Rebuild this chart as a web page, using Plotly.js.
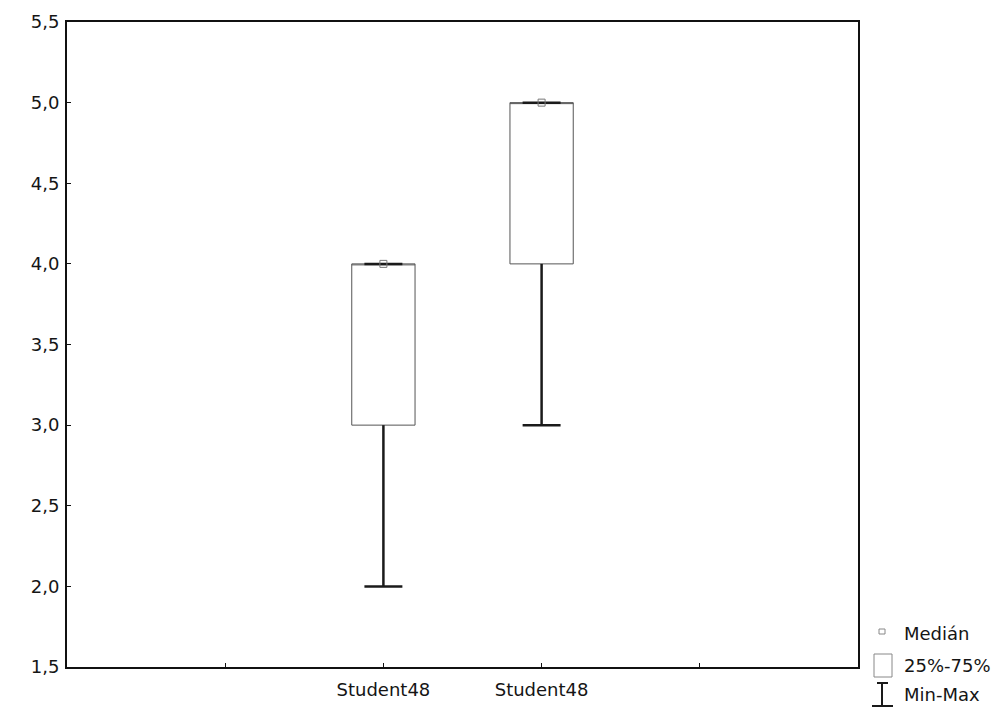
<!DOCTYPE html>
<html>
<head>
<meta charset="utf-8">
<script src="https://cdn.plot.ly/plotly-3.0.1.min.js"></script>
<style>html,body{margin:0;padding:0;background:#fff;}#chart{width:999px;height:715px;}</style>
</head>
<body>
<div id="chart"></div>
<script>
// ---- data ----
const xPos = [2, 3];
const tickVals = [1, 2, 3, 4];
const tickLabels = ["", "Student48", "Student48", ""];
const minVals = [2, 3];
const q1Vals = [3, 4];
const medianVals = [4, 5];
const q3Vals = [4, 5];
const maxVals = [4, 5];
const yTicks = [1.5, 2.0, 2.5, 3.0, 3.5, 4.0, 4.5, 5.0, 5.5];
const legendLabels = ["Medián", "25%-75%", "Min-Max"];

// ---- layout helpers ----
const L = 67, R = 858, T = 22, B = 667;
const px = v => (v - L) / (R - L);
const py = v => (B - v) / (B - T);
const FONT = "DejaVu Sans, Liberation Sans, Arial, sans-serif";
const TXT = "#151515";
const boxWidth = 0.4, capHalf = 0.12;

// thick whisker lines built from data
const wx = [], wy = [];
for (let i = 0; i < xPos.length; i++) {
  const x = xPos[i];
  wx.push(x, x, null, x - capHalf, x + capHalf, null);
  wy.push(q1Vals[i], minVals[i], null, minVals[i], minVals[i], null);
  wx.push(x, x, null, x - capHalf, x + capHalf, null);
  wy.push(q3Vals[i], maxVals[i], null, maxVals[i], maxVals[i], null);
}

const traces = [
  {
    type: "box", x: xPos, q1: q1Vals, median: medianVals, q3: q3Vals,
    lowerfence: q1Vals, upperfence: q3Vals,
    width: boxWidth, whiskerwidth: 0,
    line: {color: "#555", width: 1}, fillcolor: "rgba(255,255,255,0)",
    hoverinfo: "skip", showlegend: false
  },
  {
    type: "scatter", mode: "lines", x: wx, y: wy,
    line: {color: "#1a1a1a", width: 2.5}, hoverinfo: "skip", showlegend: false,
    connectgaps: false
  },
  {
    type: "scatter", mode: "markers", x: xPos, y: medianVals,
    marker: {symbol: "square-open", size: 7, color: "#777", line: {width: 1}},
    hoverinfo: "skip", showlegend: false
  }
];

const shapes = [
  {type: "rect", xref: "paper", yref: "paper", x0: px(879), x1: px(885), y0: py(634), y1: py(629), line: {color: "#888", width: 1}},
  {type: "rect", xref: "paper", yref: "paper", x0: px(874), x1: px(892), y0: py(677), y1: py(654), line: {color: "#888", width: 1}},
  {type: "line", xref: "paper", yref: "paper", x0: px(882), x1: px(882), y0: py(706), y1: py(683), line: {color: "#1a1a1a", width: 2}},
  {type: "line", xref: "paper", yref: "paper", x0: px(877), x1: px(888), y0: py(683), y1: py(683), line: {color: "#1a1a1a", width: 2}},
  {type: "line", xref: "paper", yref: "paper", x0: px(872), x1: px(893), y0: py(706), y1: py(706), line: {color: "#1a1a1a", width: 2}}
];
const legendY = [633, 665, 694];
const annotations = legendLabels.map((t, i) => ({
  text: t, xref: "paper", yref: "paper", x: px(902), y: py(legendY[i]),
  xanchor: "left", yanchor: "middle", showarrow: false,
  font: {family: FONT, size: 18, color: TXT}
}));

const layout = {
  width: 999, height: 715,
  margin: {l: L, r: 999 - R, t: T, b: 715 - B, pad: 0},
  paper_bgcolor: "#fff", plot_bgcolor: "#fff",
  separators: ", ",
  showlegend: false,
  font: {family: FONT, size: 18, color: TXT},
  xaxis: {
    range: [0, 5], tickmode: "array", tickvals: tickVals, ticktext: tickLabels,
    showgrid: false, zeroline: false, showline: true, mirror: true,
    linecolor: "#111", linewidth: 2, ticks: "inside", ticklen: 4, tickcolor: "#111",
    ticklabelstandoff: 5,
    tickfont: {family: FONT, size: 18, color: TXT}
  },
  yaxis: {
    range: [1.5, 5.5], tickmode: "array", tickvals: yTicks, tickformat: ".1f",
    showgrid: false, zeroline: false, showline: true, mirror: true,
    linecolor: "#111", linewidth: 2, ticks: "inside", ticklen: 4, tickcolor: "#111",
    ticklabelstandoff: 2,
    tickfont: {family: FONT, size: 18, color: TXT}
  },
  shapes: shapes,
  annotations: annotations
};

Plotly.newPlot("chart", traces, layout, {displayModeBar: false, staticPlot: true});
</script>
</body>
</html>
